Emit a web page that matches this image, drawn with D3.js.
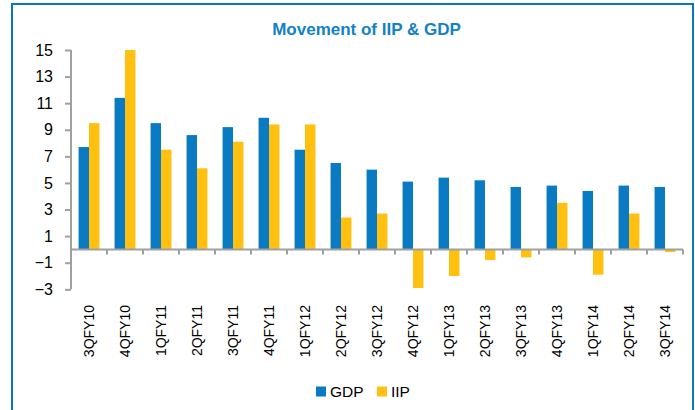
<!DOCTYPE html>
<html>
<head>
<meta charset="utf-8">
<script src="https://cdn.jsdelivr.net/npm/d3@7/dist/d3.min.js"></script>
<style>
  html, body { margin: 0; padding: 0; background: #fff; }
  svg { display: block; }
</style>
</head>
<body>
<svg id="chart" width="695" height="410"></svg>
<script>
const categories = ["3QFY10","4QFY10","1QFY11","2QFY11","3QFY11","4QFY11","1QFY12","2QFY12","3QFY12","4QFY12","1QFY13","2QFY13","3QFY13","4QFY13","1QFY14","2QFY14","3QFY14"];
const gdp = [7.7, 11.4, 9.5, 8.6, 9.2, 9.9, 7.5, 6.5, 6.0, 5.1, 5.4, 5.2, 4.7, 4.8, 4.4, 4.8, 4.7];
const iip = [9.5, 15.0, 7.5, 6.1, 8.1, 9.4, 9.4, 2.4, 2.7, -2.9, -2.0, -0.8, -0.6, 3.5, -1.9, 2.7, -0.2];
const seriesNames = ["GDP", "IIP"];
const seriesColors = ["#0a7bc2", "#ffc010"];
const yTicks = [-3, -1, 1, 3, 5, 7, 9, 11, 13, 15];
const title = "Movement of IIP & GDP";

const svg = d3.select("#chart");
const font = "'Liberation Sans', Arial, sans-serif";

// Frame
svg.append("rect")
  .attr("x", 12).attr("y", 4)
  .attr("width", 681).attr("height", 430)
  .attr("fill", "none").attr("stroke", "#0a77c0").attr("stroke-width", 2);

// Title
svg.append("text")
  .attr("x", 366.5).attr("y", 35)
  .attr("text-anchor", "middle")
  .attr("font-family", font).attr("font-weight", "bold").attr("font-size", 17)
  .attr("fill", "#1182c6")
  .text(title);

const x = d3.scaleBand().domain(categories).range([71, 683]).paddingInner(0.42).paddingOuter(0.21);
const xs = d3.scaleBand().domain(seriesNames).range([0, x.bandwidth()]);
const y = d3.scaleLinear().domain([-3, 15]).range([289.3, 50]);

const data = categories.map((c, i) => ({ cat: c, values: [gdp[i], iip[i]] }));

// Bars
const groups = svg.append("g").selectAll("g").data(data).join("g")
  .attr("transform", d => `translate(${x(d.cat)},0)`);
groups.selectAll("rect").data(d => d.values.map((v, j) => ({ v, s: seriesNames[j], j })))
  .join("rect")
  .attr("x", d => xs(d.s))
  .attr("width", xs.bandwidth())
  .attr("y", d => y(Math.max(0, d.v)))
  .attr("height", d => Math.abs(y(d.v) - y(0)))
  .attr("fill", d => seriesColors[d.j]);

const axisColor = "#a0a0a0";

// Y axis
const yAxis = svg.append("g").attr("transform", "translate(71,0)")
  .call(d3.axisLeft(y).tickValues(yTicks).tickSize(6).tickPadding(12).tickFormat(d3.format("d")));
yAxis.select(".domain").attr("stroke", axisColor).attr("stroke-width", 2)
  .attr("d", `M0,${y(-3)}V${y(15)}`);
yAxis.selectAll(".tick line").attr("stroke", axisColor).attr("stroke-width", 2);
yAxis.selectAll(".tick text").attr("font-family", font).attr("font-size", 16).attr("fill", "#000");

// X axis at zero
const xAxisG = svg.append("g").attr("transform", `translate(0,${y(0)})`);
xAxisG.append("line")
  .attr("x1", 71).attr("x2", 683).attr("y1", 0).attr("y2", 0)
  .attr("stroke", axisColor).attr("stroke-width", 2);
const tickXs = categories.map(c => x(c) - x.step() * x.paddingInner() / 2).concat([683]);
xAxisG.selectAll("line.tk").data(tickXs.slice(1)).join("line")
  .attr("class", "tk")
  .attr("x1", d => d).attr("x2", d => d).attr("y1", 0).attr("y2", 5)
  .attr("stroke", axisColor).attr("stroke-width", 2);

// Category labels
svg.append("g").selectAll("text").data(categories).join("text")
  .attr("transform", d => `translate(${x(d) + x.bandwidth() / 2 + 5},305) rotate(-90)`)
  .attr("text-anchor", "end")
  .attr("font-family", font).attr("font-size", 14).attr("fill", "#000")
  .text(d => d);

// Legend
const legendX = [316, 377];
const legend = svg.append("g").selectAll("g").data(seriesNames).join("g")
  .attr("transform", (d, i) => `translate(${legendX[i]},386.5)`);
legend.append("rect").attr("width", 10).attr("height", 10)
  .attr("fill", (d, i) => seriesColors[i]);
legend.append("text").attr("x", 14).attr("y", 10.5)
  .attr("font-family", font).attr("font-size", 15.5).attr("fill", "#000")
  .text(d => d);
</script>
</body>
</html>
